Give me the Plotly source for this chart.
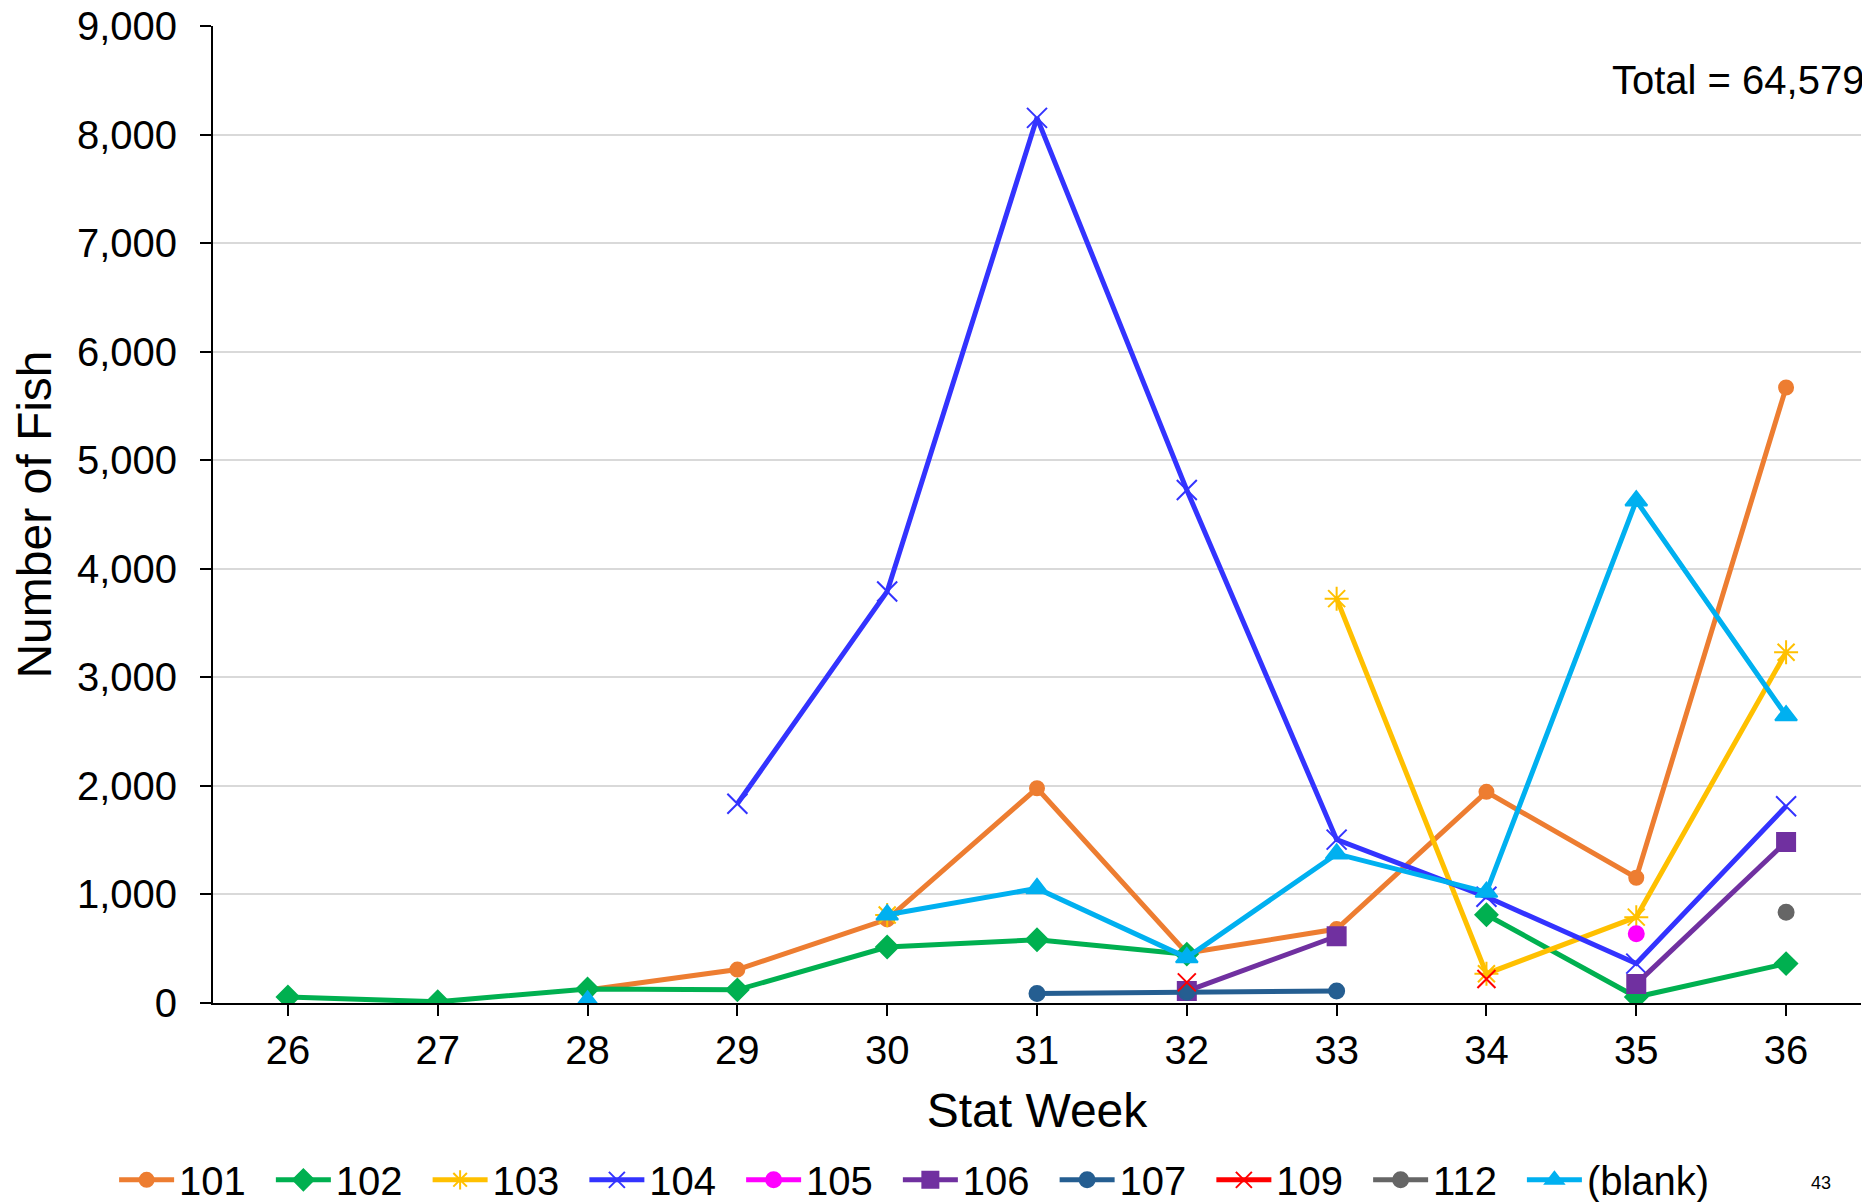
import plotly.graph_objects as go

weeks = [26, 27, 28, 29, 30, 31, 32, 33, 34, 35, 36]

s101 = [None, None, 120, 308, 770, 1978, 460, 681, 1945, 1154, 5670]
s102 = [55, 11, 130, 121, 516, 582, 450, None, 813, 55, 363]
s103 = [None, None, None, None, 810, None, None, 3725, 270, 791, 3231]
s104 = [None, None, None, 1835, 3791, 8154, 4725, 1505, 978, 363, 1813]
s105 = [None, None, None, None, None, None, None, None, None, 637, None]
s106 = [None, None, None, None, None, None, 110, 615, None, 176, 1484]
s107 = [None, None, None, None, None, 88, 99, 110, None, None, None]
s109 = [None, None, None, None, None, None, 190, None, 221, None, None]
s112 = [None, None, None, None, None, None, None, None, None, None, 835]
sblank = [None, None, 20, None, 813, 1055, 418, 1374, 1022, 4627, 2648]

series = [
    ("101", s101, "#ED7D31", "circle", 14),
    ("102", s102, "#00B050", "diamond", 17),
    ("103", s103, "#FFC000", "asterisk-open", 20),
    ("104", s104, "#3333FF", "x-thin-open", 20),
    ("105", s105, "#FF00FF", "circle", 15),
    ("106", s106, "#7030A0", "square", 18),
    ("107", s107, "#255E91", "circle", 15),
    ("109", s109, "#FF0000", "x-thin-open", 18),
    ("112", s112, "#666666", "circle", 15),
    ("(blank)", sblank, "#00B0F0", "triangle-up", 19),
]

fig = go.Figure()
for name, vals, col, sym, sz in series:
    # trailing en space only widens the gap between legend entries
    fig.add_trace(go.Scatter(
        x=weeks, y=vals, name=name + "\u2002", mode="lines+markers",
        connectgaps=False,
        line=dict(color=col, width=5),
        marker=dict(symbol=sym, size=sz, color=col, line=dict(color=col, width=2)),
    ))

fig.add_annotation(text="Total = 64,579", xref="paper", yref="paper",
                   x=1.003, y=0.945, xanchor="right", yanchor="middle",
                   showarrow=False, font=dict(size=40, color="black"))
fig.add_annotation(text="43", xref="paper", yref="paper",
                   x=0.976, y=-0.184, xanchor="center", yanchor="middle",
                   showarrow=False, font=dict(size=18, color="black"))

# page body has an 8px margin, so the figure is a bit smaller than the window
fig.update_layout(
    width=1862, height=1194,
    margin=dict(l=205, r=9, t=18, b=199, autoexpand=False),
    plot_bgcolor="white", paper_bgcolor="white",
    font=dict(family="Liberation Sans, Arial, sans-serif", size=40, color="black"),
    showlegend=True,
    legend=dict(orientation="h", x=-0.06, y=-0.181, xanchor="left", yanchor="middle",
                font=dict(size=40), itemwidth=55, traceorder="normal"),
)
fig.update_xaxes(
    range=[25.5, 36.5], tickvals=weeks, ticktext=[str(w) for w in weeks],
    showline=True, linecolor="black", linewidth=2, ticks="outside", ticklen=11,
    tickcolor="black", tickwidth=2, showgrid=False, zeroline=False,
    title=dict(text="Stat Week", standoff=22), tickfont=dict(size=40),
)
fig.update_yaxes(
    range=[0, 9000], dtick=1000, tickformat=",",
    showline=True, linecolor="black", linewidth=2, ticks="outside", ticklen=11,
    tickcolor="black", tickwidth=2, showgrid=True, gridcolor="#D9D9D9", gridwidth=2,
    zeroline=False, ticklabelstandoff=15, ticklabeloverflow="allow",
    title=dict(text="Number of Fish", standoff=20), tickfont=dict(size=40),
)

fig.write_html("out.html")
